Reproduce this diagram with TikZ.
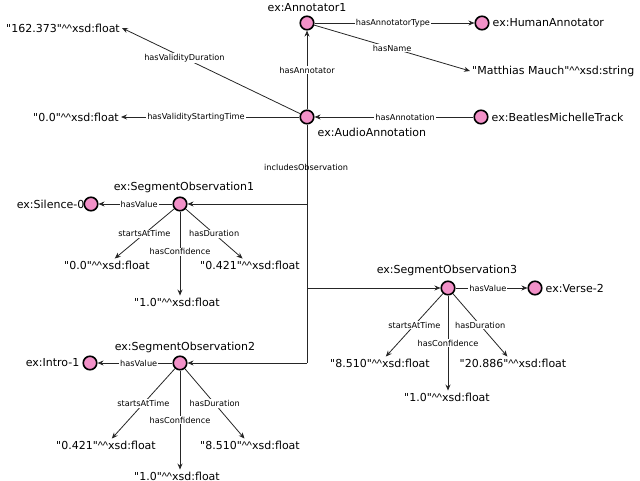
\documentclass[tikz,border=0pt]{standalone}
\usepackage{fontspec}
\setmainfont{DejaVu Sans}[Ligatures=TeXOff]
\newfontfamily\caretfont{Liberation Sans}
\usetikzlibrary{arrows.meta}
\definecolor{rdfpink}{RGB}{242,145,200}
\newcommand{\dt}{{\caretfont\char94\relax\char94\relax}}
\begin{document}
\begin{tikzpicture}[x=1pt,y=-1pt,
  res/.style={circle,draw=black,line width=1.6pt,fill=rdfpink,minimum size=13.5pt,inner sep=0pt},
  txt/.style={inner sep=1.5pt,font=\fontsize{11}{13}\selectfont},
  lit/.style={inner sep=2pt,font=\fontsize{11}{13}\selectfont},
  elab/.style={fill=white,inner sep=1pt,font=\fontsize{8.2}{9}\selectfont},
  edge/.style={draw=black!85,line width=0.8pt,-{Stealth[length=6pt,width=5pt]}},
  plain/.style={draw=black!85,line width=0.8pt}]
\useasboundingbox (0,0) rectangle (640,481);
% resources
\node[res] (ann) at (307,23) {};
\node[res] (human) at (482,23) {};
\node[res] (aa) at (307,117) {};
\node[res] (beat) at (481,117) {};
\node[res] (so1) at (180,204) {};
\node[res] (sil) at (91,204) {};
\node[res] (so2) at (180,363) {};
\node[res] (intro) at (90,363) {};
\node[res] (so3) at (448,288) {};
\node[res] (verse) at (535,288) {};
% resource labels
\node[txt] (annL) at (307,8) {ex:Annotator1};
\node[txt,anchor=west] (humanL) at (491,23) {ex:HumanAnnotator};
\node[txt,anchor=west] (aaL) at (316,132) {ex:AudioAnnotation};
\node[txt,anchor=west] (beatL) at (490,117) {ex:BeatlesMichelleTrack};
\node[txt] (so1L) at (184,187) {ex:SegmentObservation1};
\node[txt,anchor=east] (silL) at (86,204) {ex:Silence-0};
\node[txt] (so2L) at (185,347) {ex:SegmentObservation2};
\node[txt,anchor=east] (introL) at (81,363) {ex:Intro-1};
\node[txt] (so3L) at (447,270) {ex:SegmentObservation3};
\node[txt,anchor=west] (verseL) at (544,288) {ex:Verse-2};
% literals
\node[lit,anchor=east] (lvd) at (122,28) {"162.373"\dt xsd:float};
\node[lit,anchor=east] (lvs) at (121,117) {"0.0"\dt xsd:float};
\node[lit,anchor=west] (lname) at (470,71) {"Matthias Mauch"\dt xsd:string};
\node[lit] (s1st) at (107,265) {"0.0"\dt xsd:float};
\node[lit] (s1du) at (250,265) {"0.421"\dt xsd:float};
\node[lit] (s1cf) at (177,302) {"1.0"\dt xsd:float};
\node[lit] (s2st) at (106,445) {"0.421"\dt xsd:float};
\node[lit] (s2du) at (250,445) {"8.510"\dt xsd:float};
\node[lit] (s2cf) at (177,476) {"1.0"\dt xsd:float};
\node[lit] (s3st) at (380,363) {"8.510"\dt xsd:float};
\node[lit] (s3du) at (513,363) {"20.886"\dt xsd:float};
\node[lit] (s3cf) at (447,397) {"1.0"\dt xsd:float};
% junction coordinates
\coordinate (j1) at (307,204);
\coordinate (j3) at (307,288);
\coordinate (j2) at (307,363);
% edges
\path[edge] (ann) -- node[elab,pos=0.49] {hasAnnotatorType} (human);
\path[edge] (ann) -- node[elab,pos=0.5] {hasName} (lname.west);
\path[edge] (aa) -- node[elab,pos=0.5] {hasAnnotator} (ann);
\path[edge] (aa) -- node[elab,pos=0.65] {hasValidityDuration} (lvd.east);
\path[edge] (aa) -- node[elab,pos=0.58] {hasValidityStartingTime} (lvs.east);
\path[edge] (beat) -- node[elab,pos=0.43] {hasAnnotation} (aa);
\path[plain] (aa) -- (j2);
\path[edge] (j2) -- (so2);
\path[edge] (j1) -- (so1);
\path[edge] (j3) -- (so3);
\node[font=\fontsize{8.2}{9}\selectfont] (incl) at (306,167) {includesObservation};
% segment 1
\path[edge] (so1) -- node[elab,pos=0.45] {hasValue} (sil);
\path[edge] (so1) -- node[elab,pos=0.5] {startsAtTime} (s1st);
\path[edge] (so1) -- node[elab,pos=0.5] {hasDuration} (s1du);
\path[edge] (so1) -- node[elab,pos=0.48] {hasConfidence} (so1 |- s1cf.north);
% segment 2
\path[edge] (so2) -- node[elab,pos=0.45] {hasValue} (intro);
\path[edge] (so2) -- node[elab,pos=0.5] {startsAtTime} (s2st);
\path[edge] (so2) -- node[elab,pos=0.5] {hasDuration} (s2du);
\path[edge] (so2) -- node[elab,pos=0.5] {hasConfidence} (so2 |- s2cf.north);
% segment 3
\path[edge] (so3) -- node[elab,pos=0.45] {hasValue} (verse);
\path[edge] (so3) -- node[elab,pos=0.5] {startsAtTime} (s3st);
\path[edge] (so3) -- node[elab,pos=0.5] {hasDuration} (s3du);
\path[edge] (so3) -- node[elab,pos=0.5] {hasConfidence} (so3 |- s3cf.north);
\end{tikzpicture}
\end{document}
